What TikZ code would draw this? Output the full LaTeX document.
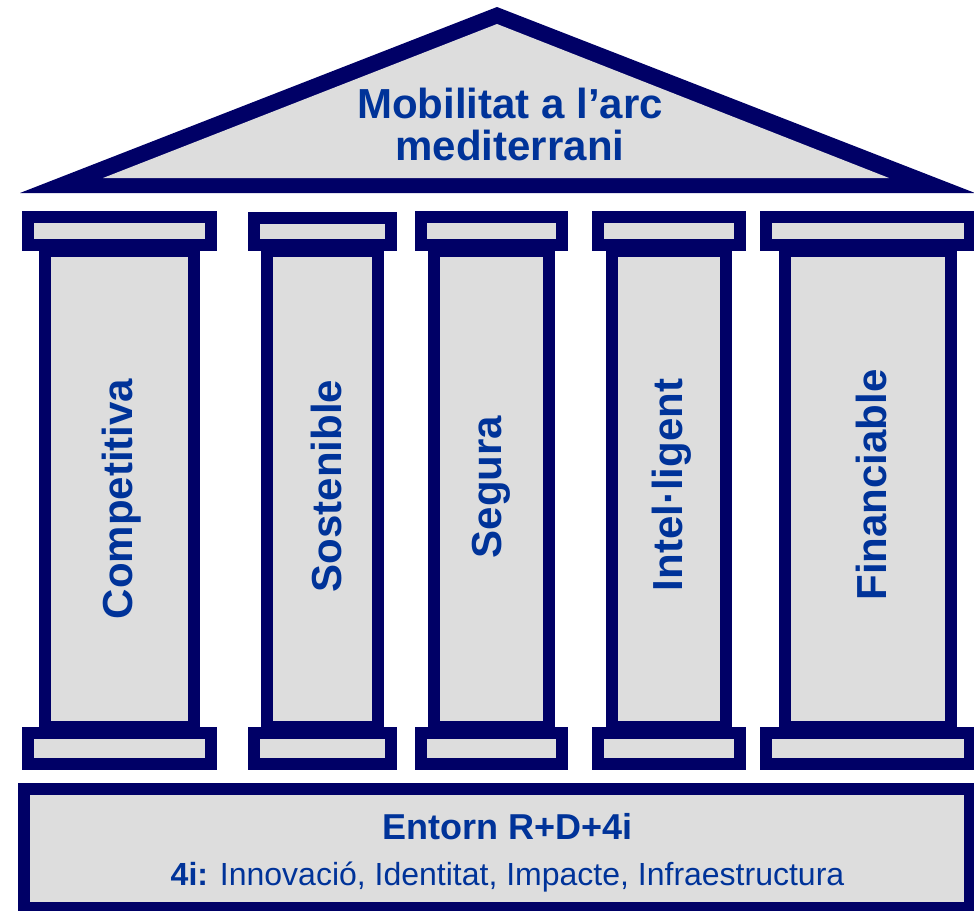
\documentclass[tikz,border=0pt]{standalone}
\usepackage{fontspec}
\setmainfont{Liberation Sans}
\definecolor{navy}{RGB}{0,0,102}
\definecolor{boxgray}{RGB}{221,221,221}
\definecolor{txtblue}{RGB}{0,51,153}
\begin{document}
\begin{tikzpicture}[x=1pt,y=-1pt,
  frame/.style={draw=navy, fill=boxgray, line width=12pt, line join=miter},
  bigtxt/.style={text=txtblue, font=\fontsize{42}{42}\selectfont\bfseries, inner sep=0pt, anchor=base},
  coltxt/.style={bigtxt, rotate=90},
  basetxt/.style={text=txtblue, inner sep=0pt, anchor=base}]
\useasboundingbox (0,0) rectangle (974,910);
% roof
\fill[navy] (20,193) -- (497,7) -- (975,193) -- cycle;
\fill[boxgray] (103,178) -- (497,24) -- (889,178) -- cycle;
\node[bigtxt] (title1) at (510,118) {Mobilitat a l’arc};
\node[bigtxt] (title2) at (510,160) {mediterrani};
% column 1
\draw[frame] (45,251) rectangle (194,727);
\draw[frame] (28,217) rectangle (211,245);
\draw[frame] (28,733) rectangle (211,764);
% column 2
\draw[frame] (267,251) rectangle (378,727);
\draw[frame] (254,218) rectangle (391,245);
\draw[frame] (254,733) rectangle (391,764);
% column 3
\draw[frame] (434,251) rectangle (549,727);
\draw[frame] (421,217) rectangle (562,245);
\draw[frame] (421,733) rectangle (562,764);
% column 4
\draw[frame] (612,251) rectangle (726,727);
\draw[frame] (598,217) rectangle (740,245);
\draw[frame] (598,733) rectangle (740,764);
% column 5
\draw[frame] (785,251) rectangle (951,727);
\draw[frame] (766,217) rectangle (970,245);
\draw[frame] (766,733) rectangle (970,764);
% column labels
\node[coltxt] (c1) at (132,499) {Competitiva};
\node[coltxt] (c2) at (341,486) {Sostenible};
\node[coltxt] (c3) at (501,487) {Segura};
\node[coltxt] (c4) at (682,485) {Intel·ligent};
\node[coltxt] (c5) at (886,485) {Financiable};
% base
\draw[frame] (24,789) rectangle (970,908);
\node[basetxt, font=\fontsize{36}{36}\selectfont\bfseries] (b1) at (507.5,839) {Entorn R+D+4i};
\node[basetxt, font=\fontsize{32}{32}\selectfont] (b2) at (507.5,885) {\textbf{4i:} Innovació, Identitat, Impacte, Infraestructura};
\end{tikzpicture}
\end{document}
